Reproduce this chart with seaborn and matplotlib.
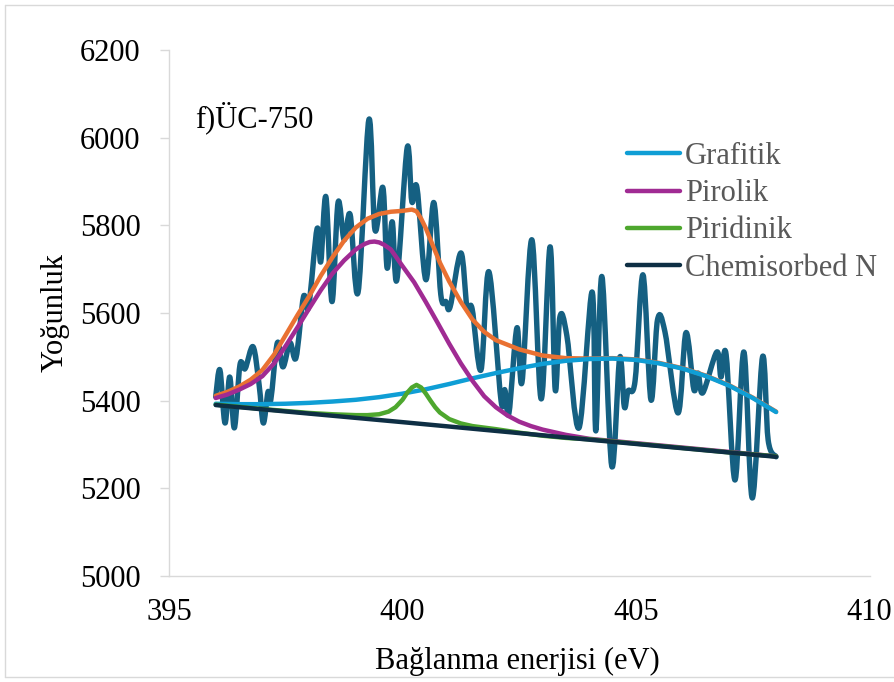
import numpy as np
import pandas as pd
import seaborn as sns
import matplotlib
matplotlib.use("Agg")
import matplotlib.pyplot as plt
from matplotlib.path import Path
from matplotlib.patches import PathPatch, Rectangle
from matplotlib.lines import Line2D

# ---- N 1s spectrum (measured counts) ----
energy_ev = [396.00, 396.09, 396.20, 396.30, 396.40, 396.52, 396.63, 396.80, 396.93, 397.02,
             397.12, 397.18, 397.32, 397.44, 397.59, 397.72, 397.88, 397.99, 398.17, 398.25,
             398.36, 398.49, 398.62, 398.75, 398.88, 399.05, 399.28, 399.41, 399.58, 399.67,
             399.78, 399.88, 400.10, 400.20, 400.31, 400.50, 400.67, 400.82, 400.93, 401.02,
             401.25, 401.38, 401.49, 401.68, 401.85, 402.11, 402.19, 402.28, 402.45, 402.56,
             402.77, 402.97, 403.16, 403.27, 403.37, 403.52, 403.78, 404.06, 404.14, 404.27,
             404.48, 404.65, 404.75, 404.83, 404.98, 405.15, 405.32, 405.46, 405.62, 405.90,
             406.07, 406.24, 406.33, 406.43, 406.73, 406.82, 406.93, 407.12, 407.31, 407.49,
             407.71, 407.83, 408.00]
counts = [5409, 5470, 5349, 5454, 5338, 5482, 5473, 5523, 5436, 5349,
          5420, 5402, 5532, 5477, 5532, 5498, 5637, 5614, 5792, 5717,
          5865, 5626, 5852, 5767, 5824, 5648, 6041, 5790, 5886, 5703,
          5808, 5676, 5977, 5854, 5886, 5676, 5852, 5642, 5626, 5614,
          5737, 5614, 5610, 5470, 5694, 5400, 5425, 5372, 5566, 5443,
          5767, 5404, 5751, 5425, 5591, 5548, 5338, 5648, 5331, 5683,
          5251, 5498, 5386, 5422, 5445, 5687, 5402, 5584, 5557, 5372,
          5555, 5425, 5463, 5418, 5511, 5454, 5505, 5219, 5511, 5178,
          5500, 5310, 5272]

# ---- fitted envelope ----
envelope_ev = [396.0, 396.25, 396.5, 396.75, 397.0, 397.25, 397.5, 397.75, 398.0, 398.25,
               398.5, 398.75, 399.0, 399.25, 399.5, 399.75, 400.0, 400.2, 400.3, 400.4,
               400.5, 400.6, 400.8, 401.0, 401.25, 401.5, 401.75, 402.0, 402.5, 403.0,
               403.5, 404.0, 404.5, 405.0, 405.5, 406.0, 406.5, 407.0, 407.5, 408.0]
envelope = [5411, 5420, 5432, 5448, 5470, 5505, 5550, 5595, 5638, 5685,
            5727, 5765, 5795, 5815, 5826, 5831, 5833, 5836, 5832, 5815,
            5793, 5767, 5715, 5672, 5625, 5585, 5557, 5538, 5517, 5503,
            5497, 5496, 5497, 5494, 5486, 5474, 5457, 5435, 5407, 5375]

# ---- fitted components ----
grafitik_ev = [396.0, 396.5, 397.0, 397.5, 398.0, 398.5, 399.0, 399.5, 400.0, 400.5,
               401.0, 401.5, 402.0, 402.5, 403.0, 403.5, 404.0, 404.5, 405.0, 405.5,
               406.0, 406.5, 407.0, 407.5, 408.0]
grafitik = [5393, 5392, 5392, 5393, 5395, 5398, 5402, 5408, 5416, 5426,
            5438, 5451, 5463, 5474, 5484, 5491, 5495, 5496, 5493, 5485,
            5473, 5456, 5434, 5406, 5374]

pirolik_ev = [396.0, 396.25, 396.5, 396.75, 397.0, 397.25, 397.5, 397.75, 398.0, 398.25,
              398.5, 398.75, 399.0, 399.1, 399.2, 399.3, 399.4, 399.5, 399.6, 399.75,
              400.0, 400.25, 400.5, 400.75, 401.0, 401.25, 401.5, 401.75, 402.0, 402.25,
              402.5, 402.75, 403.0, 403.5, 404.0, 405.0, 406.0, 407.0, 408.0]
pirolik = [5406, 5414, 5425, 5438, 5456, 5485, 5525, 5567, 5610, 5652,
           5690, 5720, 5745, 5752, 5758, 5762, 5763, 5761, 5756, 5745,
           5707, 5670, 5625, 5578, 5530, 5485, 5445, 5410, 5385, 5366,
           5352, 5342, 5334, 5322, 5313, 5303, 5293, 5283, 5273]

piridinik_ev = [396.0, 397.0, 398.0, 398.5, 399.0, 399.25, 399.5, 399.7, 399.85, 400.0,
                400.1, 400.2, 400.3, 400.4, 400.5, 400.6, 400.7, 400.8, 401.0, 401.25,
                401.5, 402.0, 402.5, 403.0, 403.5, 404.0, 405.0, 406.0, 407.0, 408.0]
piridinik = [5391, 5381, 5372, 5369, 5367, 5367, 5369, 5375, 5385, 5402,
             5418, 5430, 5436, 5430, 5416, 5400, 5385, 5373, 5358, 5348,
             5342, 5335, 5327, 5320, 5315, 5312, 5302, 5292, 5282, 5273]

chemisorbed_ev = [396.0, 400.0, 404.0, 408.0]
chemisorbed = [5390, 5351, 5311, 5272]

component_names = ["Grafitik", "Pirolik", "Piridinik", "Chemisorbed N"]
x_ticks = [395, 400, 405, 410]
y_ticks = [5000, 5200, 5400, 5600, 5800, 6000, 6200]

C_DATA = "#156082"
C_ENV = "#E97132"
C_GRAF = "#0F9ED5"
C_PIRO = "#A02B93"
C_PIRI = "#4EA72E"
C_CHEM = "#0E2F44"

sns.set_theme(style="white")
plt.rcParams["font.family"] = ["Liberation Serif", "DejaVu Serif"]

fig = plt.figure(figsize=(8.94, 6.82), dpi=100)
ax = fig.add_axes([169 / 894, 1 - 576 / 682, 700.5 / 894, 526 / 682])


def smooth_path(x, y):
    """Smoothed polyline (Catmull-Rom as cubic Bezier) through the given points."""
    pts = np.column_stack([x, y]).astype(float)
    n = len(pts)
    verts = [pts[0]]
    codes = [Path.MOVETO]
    for i in range(n - 1):
        p0 = pts[i - 1] if i > 0 else pts[i]
        p1 = pts[i]
        p2 = pts[i + 1]
        p3 = pts[i + 2] if i + 2 < n else pts[i + 1]
        verts += [p1 + (p2 - p0) / 6.0, p2 - (p3 - p1) / 6.0, p2]
        codes += [Path.CURVE4] * 3
    return Path(verts, codes)


# measured spectrum as a smoothed line
spec = pd.DataFrame({"energy": energy_ev, "counts": counts})
ax.add_patch(PathPatch(smooth_path(spec["energy"], spec["counts"]), facecolor="none",
                       edgecolor=C_DATA, lw=3.9, capstyle="round", joinstyle="round",
                       zorder=2))

line_kw = dict(linewidth=3.2, solid_capstyle="round", solid_joinstyle="round",
               legend=False, sort=False)
sns.lineplot(x=envelope_ev, y=envelope, color=C_ENV, ax=ax, zorder=3, **line_kw)
sns.lineplot(x=grafitik_ev, y=grafitik, color=C_GRAF, ax=ax, zorder=4, **line_kw)
sns.lineplot(x=pirolik_ev, y=pirolik, color=C_PIRO, ax=ax, zorder=5, **line_kw)
sns.lineplot(x=piridinik_ev, y=piridinik, color=C_PIRI, ax=ax, zorder=6, **line_kw)
sns.lineplot(x=chemisorbed_ev, y=chemisorbed, color=C_CHEM, ax=ax, zorder=7, **line_kw)

ax.set_xlim(395, 410)
ax.set_ylim(5000, 6200)
ax.set_xticks(x_ticks)
ax.set_yticks(y_ticks)
ax.set_xticklabels([str(v) for v in x_ticks])
ax.set_yticklabels([str(v) for v in y_ticks])

for side in ("top", "right"):
    ax.spines[side].set_visible(False)
for side in ("left", "bottom"):
    ax.spines[side].set_color("#D9D9D9")
    ax.spines[side].set_linewidth(1.0)

ax.tick_params(axis="y", left=True, length=6.5, width=1.0, color="#D9D9D9",
               direction="out", pad=14, labelsize=22, labelcolor="black")
ax.tick_params(axis="x", bottom=False, length=0, pad=16, labelsize=22,
               labelcolor="black")

ax.set_xlabel("Bağlanma enerjisi (eV)", fontsize=22, color="black")
ax.xaxis.label.set_va("center")
ax.xaxis.set_label_coords((517 - 169) / 700.5, (576 - 661) / 526)
ax.set_ylabel("Yoğunluk", fontsize=22, color="black")
ax.yaxis.label.set_va("center")
ax.yaxis.set_label_coords((55 - 169) / 700.5, 0.5)

fig.text(195 / 894, 1 - 118 / 682, "f)ÜC-750", fontsize=22, color="black",
         va="center", ha="left")

handles = [Line2D([0], [0], color=c, lw=3.2, solid_capstyle="round")
           for c in (C_GRAF, C_PIRO, C_PIRI, C_CHEM)]
leg = fig.legend(handles, component_names, loc="upper left",
                 bbox_to_anchor=(627 / 894, 1 - 142 / 682), frameon=False,
                 fontsize=22, handlelength=1.75, handletextpad=0.15,
                 labelspacing=0.27, borderpad=0, borderaxespad=0)
for t in leg.get_texts():
    t.set_color("#595959")

# chart-area border (open on the right, where the frame runs off the canvas)
border_kw = dict(color="#D9D9D9", lw=1.0, transform=fig.transFigure)
fig.add_artist(Line2D([5 / 894, 1.0], [1 - 5 / 682, 1 - 5 / 682], **border_kw))
fig.add_artist(Line2D([5 / 894, 5 / 894], [1 - 5 / 682, 5 / 682], **border_kw))
fig.add_artist(Line2D([5 / 894, 1.0], [5 / 682, 5 / 682], **border_kw))

fig.savefig("out.png", dpi=100)
